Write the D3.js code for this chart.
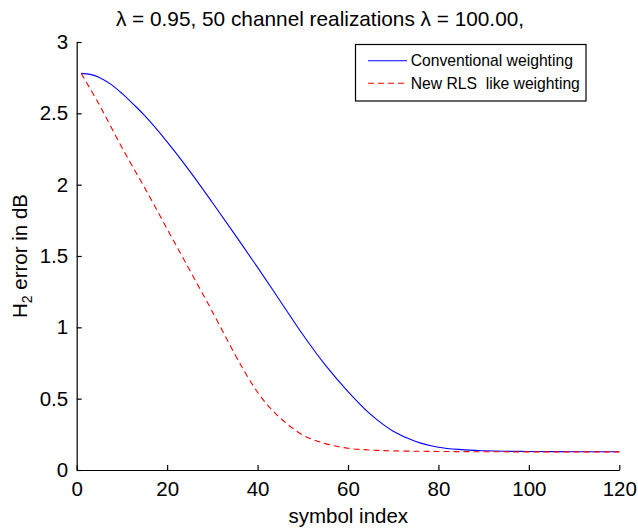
<!DOCTYPE html>
<html>
<head>
<meta charset="utf-8">
<script src="https://cdn.jsdelivr.net/npm/d3@7"></script>
<style>
  body { margin: 0; background: #fff; }
  svg { display: block; font-family: "Liberation Sans", Arial, Helvetica, sans-serif; }
  .axis path, .axis line { stroke: #000; stroke-width: 1.2; }
  .axis text { font-size: 20.5px; fill: #000; }
</style>
</head>
<body>
<svg width="638" height="528"></svg>
<script>
const convIdx = [1, 3, 5, 7.5, 10, 12.5, 15, 20, 25, 30, 35, 40, 45, 50, 55, 60, 65, 70, 75, 80, 85, 90, 95, 100, 110, 120];
const conventional = [2.78, 2.773, 2.752, 2.705, 2.64, 2.565, 2.485, 2.3, 2.095, 1.875, 1.65, 1.42, 1.185, 0.95, 0.735, 0.55, 0.39, 0.272, 0.2, 0.16, 0.143, 0.135, 0.131, 0.13, 0.128, 0.128];
const rlsIdx = [1, 5, 10, 15, 20, 25, 30, 35, 37.5, 40, 42.5, 45, 50, 55, 60, 65, 70, 80, 90, 100, 120];
const rlsLike = [2.78, 2.56, 2.26, 1.98, 1.69, 1.40, 1.11, 0.81, 0.67, 0.545, 0.445, 0.365, 0.245, 0.185, 0.152, 0.14, 0.134, 0.13, 0.128, 0.127, 0.127];
const xTicks = [0, 20, 40, 60, 80, 100, 120];
const yTicks = [0, 0.5, 1, 1.5, 2, 2.5, 3];
const seriesNames = ['Conventional weighting', 'New RLS  like weighting'];

const svg = d3.select('svg');

const x = d3.scaleLinear().domain([0, 120]).range([76.7, 619.3]);
const y = d3.scaleLinear().domain([0, 3]).range([470, 42]);

svg.append('g')
  .attr('class', 'axis')
  .attr('transform', `translate(0, ${y(0)})`)
  .call(d3.axisBottom(x).tickValues(xTicks).tickSizeInner(-5).tickSizeOuter(0).tickPadding(11.5))
  .call(g => g.selectAll('text').attr('dy', '0.72em'));

svg.append('g')
  .attr('class', 'axis')
  .attr('transform', `translate(${x(0)}, 0)`)
  .call(d3.axisLeft(y).tickValues(yTicks).tickSizeInner(-5).tickSizeOuter(0).tickPadding(8.5)
    .tickFormat(d3.format('~g')));

const line = idx => d3.line()
  .x((d, i) => x(idx[i]))
  .y(d => y(d))
  .curve(d3.curveCatmullRom.alpha(0.5));

svg.append('path')
  .datum(conventional)
  .attr('fill', 'none')
  .attr('stroke', '#0000ff')
  .attr('stroke-width', 1.1)
  .attr('d', line(convIdx));

svg.append('path')
  .datum(rlsLike)
  .attr('fill', 'none')
  .attr('stroke', '#ff0000')
  .attr('stroke-width', 1.1)
  .attr('stroke-dasharray', '6,4')
  .attr('d', line(rlsIdx));

// title and labels
svg.append('text')
  .attr('x', 320)
  .attr('y', 26)
  .attr('text-anchor', 'middle')
  .style('font-size', '20.8px')
  .text('\u03bb = 0.95, 50 channel realizations \u03bb = 100.00,');

svg.append('text')
  .attr('x', 348.3)
  .attr('y', 523)
  .attr('text-anchor', 'middle')
  .style('font-size', '20.5px')
  .text('symbol index');

const yl = svg.append('text')
  .attr('transform', 'translate(26.5, 256) rotate(-90)')
  .attr('text-anchor', 'middle')
  .style('font-size', '20.5px');
yl.append('tspan').text('H');
yl.append('tspan').attr('dy', 5).style('font-size', '14px').text('2');
yl.append('tspan').attr('dy', -5).text(' error in dB');

// legend
const legend = svg.append('g');
legend.append('rect')
  .attr('x', 355.5).attr('y', 44.5)
  .attr('width', 230.5).attr('height', 56.5)
  .attr('fill', '#fff')
  .attr('stroke', '#000')
  .attr('stroke-width', 1.2);

const legColors = ['#0000ff', '#ff0000'];
const legDash = [null, '6,4'];
seriesNames.forEach((name, i) => {
  const ly = 60.7 + i * 22.6;
  legend.append('line')
    .attr('x1', 368).attr('x2', 407)
    .attr('y1', ly).attr('y2', ly)
    .attr('stroke', legColors[i])
    .attr('stroke-width', 1.1)
    .attr('stroke-dasharray', legDash[i]);
  legend.append('text')
    .attr('x', 410.7)
    .attr('y', ly)
    .attr('dy', '0.35em')
    .style('font-size', '15.7px')
    .style('white-space', 'pre')
    .text(name);
});
</script>
</body>
</html>
